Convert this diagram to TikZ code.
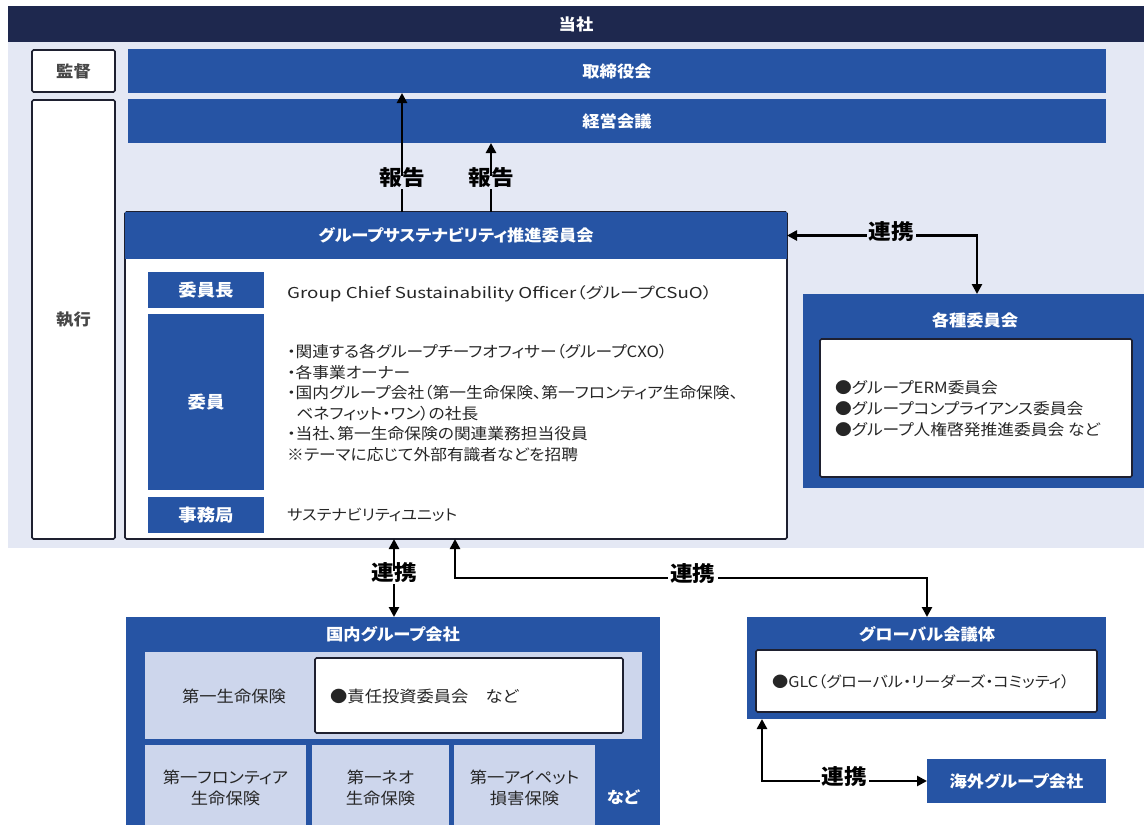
\documentclass[tikz,border=0pt]{standalone}
\usepackage{fontspec}
\setmainfont{Noto Sans CJK JP}[RawFeature=+palt, FakeStretch=1.08]
\newfontfamily\widerfont{Noto Sans CJK JP}[RawFeature=+palt, FakeStretch=1.25]
\usetikzlibrary{arrows.meta}
\definecolor{navyc}{RGB}{30,40,78}
\definecolor{bluec}{RGB}{38,84,164}
\definecolor{bgc}{RGB}{228,232,244}
\definecolor{cellc}{RGB}{205,214,236}
\definecolor{borderc}{RGB}{30,32,48}
\definecolor{textc}{RGB}{38,38,38}
\newcommand{\bx}[7]{\node[#1, anchor=north west, minimum width={(#4)-(#2)}, minimum height={(#5)-(#3)}] (#6) at (#2,#3) {#7};}
\begin{document}
\begin{tikzpicture}[x=1pt,y=-1pt,
  base/.style={inner sep=0pt, outer sep=0pt, align=center},
  navybar/.style={base, fill=navyc, text=white, font=\bfseries\fontsize{16}{18}\selectfont},
  bluebar/.style={base, fill=bluec, text=white, font=\bfseries\fontsize{16}{18}\selectfont},
  bgfill/.style={base, fill=bgc},
  wbox/.style={base, fill=white, draw=borderc, line width=1.6pt, rounded corners=1.5pt, text=textc, font=\fontsize{16}{18}\selectfont},
  sidebox/.style={wbox, text=textc!85, font=\bfseries\fontsize{16}{18}\selectfont},
  lblbox/.style={base, fill=bluec, text=white, font=\bfseries\fontsize{17}{19}\selectfont},
  cellbox/.style={base, fill=cellc, text=textc, font=\fontsize{16}{21}\selectfont},
  title/.style={inner sep=0pt, text=white, font=\bfseries\fontsize{16}{18}\selectfont},
  txt/.style={inner sep=0pt, text=textc, font=\fontsize{15}{20.6}\selectfont},
  lab/.style={inner sep=2pt, text=black, text height=0.82em, text depth=0.1em, font=\bfseries\fontsize{21}{24}\selectfont},
  arr/.style={line width=2.5pt, draw=black, arrows={-Triangle[length=10pt,width=10pt]}},
  arrboth/.style={line width=2.5pt, draw=black, arrows={Triangle[length=10pt,width=10pt]-Triangle[length=10pt,width=10pt]}}
]
\useasboundingbox (0,0) rectangle (1144,825);
\fill[white] (0,0) rectangle (1144,825);
% company area
\bx{navybar}{8}{6}{1144}{42}{top}{当社}
\bx{bgfill}{8}{42}{1144}{548}{bg}{}
\bx{sidebox}{32}{50}{115}{92}{kantoku}{監督}
\bx{sidebox}{32}{100}{115}{539}{shikko}{執行}
\bx{bluebar}{128}{49}{1106}{93}{bod}{取締役会}
\bx{bluebar}{128}{99}{1106}{143}{keiei}{経営会議}
% committee
\bx{wbox}{125}{212}{787}{539}{com}{}
\bx{bluebar}{125}{212}{787}{259}{comhead}{グループサステナビリティ推進委員会}
\bx{lblbox}{148}{272}{264}{308}{chairlbl}{委員長}
\bx{lblbox}{148}{314}{264}{490}{memlbl}{委員}
\bx{lblbox}{148}{497}{264}{533}{jimlbl}{事務局}
\node[txt, anchor=west, font=\widerfont\fontsize{15}{20.6}\selectfont] (chair) at (287,294) {Group Chief Sustainability Officer（グループCSuO）};
\node[txt, anchor=west, align=left, font=\fontsize{15.5}{20.6}\selectfont] (mem) at (287,403) {・関連する各グループチーフオフィサー（グループCXO）\\・各事業オーナー\\・国内グループ会社（第一生命保険、第一フロンティア生命保険、\\\hspace{0.6em}ベネフィット・ワン）の社長\\・当社、第一生命保険の関連業務担当役員\\※テーマに応じて外部有識者などを招聘};
\node[txt, anchor=west] (jim) at (287,515) {サステナビリティユニット};
% various committees
\bx{bluebar}{803}{294}{1144}{488}{various}{}
\node[title] (variousttl) at (975,320) {各種委員会};
\bx{wbox}{820}{339}{1132}{477}{variousin}{}
\node[txt, anchor=west, align=left, font=\fontsize{15.5}{21}\selectfont] (variouslist) at (835,409) {●グループERM委員会\\●グループコンプライアンス委員会\\●グループ人権啓発推進委員会 など};
% domestic group
\bx{bluebar}{126}{617}{660}{830}{dom}{}
\node[title] (domttl) at (393,634) {国内グループ会社};
\bx{cellbox}{145}{652}{642}{739}{domrow}{}
\node[txt, font=\fontsize{16}{20}\selectfont] (dl) at (234,696) {第一生命保険};
\bx{wbox}{315}{658}{623}{733}{dlin}{}
\node[txt, anchor=west, font=\fontsize{16}{20}\selectfont] (dltxt) at (330,696) {●責任投資委員会　など};
\bx{cellbox}{145}{745}{306}{830}{f1}{第一フロンティア\\生命保険}
\bx{cellbox}{312}{745}{449}{830}{f2}{第一ネオ\\生命保険}
\bx{cellbox}{454}{745}{595}{830}{f3}{第一アイペット\\損害保険}
\node[title] (domnado) at (623,797) {など};
% global
\bx{bluebar}{747}{617}{1106}{719}{glob}{}
\node[title] (globttl) at (927,634) {グローバル会議体};
\bx{wbox}{756}{650}{1097}{712}{globin}{}
\node[txt, anchor=west] (globtxt) at (772,682) {●GLC（グローバル・リーダーズ・コミッティ）};
\bx{bluebar}{927}{759}{1106}{803}{over}{海外グループ会社}
% connectors
\coordinate (xa) at (402,0);
\coordinate (xb) at (491,0);
\coordinate (xc) at (977,0);
\coordinate (xd) at (394,0);
\coordinate (xe) at (455,0);
\coordinate (ye) at (0,578);
\coordinate (xg) at (927,0);
\coordinate (xf) at (762,0);
\draw[arr] (com.north -| xa) -- node[lab, fill=bgc, pos=0.25] {報告} (bod.south -| xa);
\draw[arr] (com.north -| xb) -- node[lab, fill=bgc, pos=0.43] {報告} (keiei.south -| xb);
\draw[arrboth] (comhead.east) -- node[lab, fill=bgc, pos=0.55] {連携} (comhead.east -| xc) -- (various.north -| xc);
\draw[arrboth] (com.south -| xd) -- node[lab, fill=white, pos=0.49] {連携} (dom.north -| xd);
\draw[arrboth] (com.south -| xe) -- (xe |- ye) -- node[lab, fill=white, pos=0.504] {連携} (xg |- ye) -- (glob.north -| xg);
\draw[arrboth] (glob.south -| xf) -- (xf |- over.west) -- node[lab, fill=white, pos=0.5] {連携} (over.west);
\end{tikzpicture}
\end{document}
